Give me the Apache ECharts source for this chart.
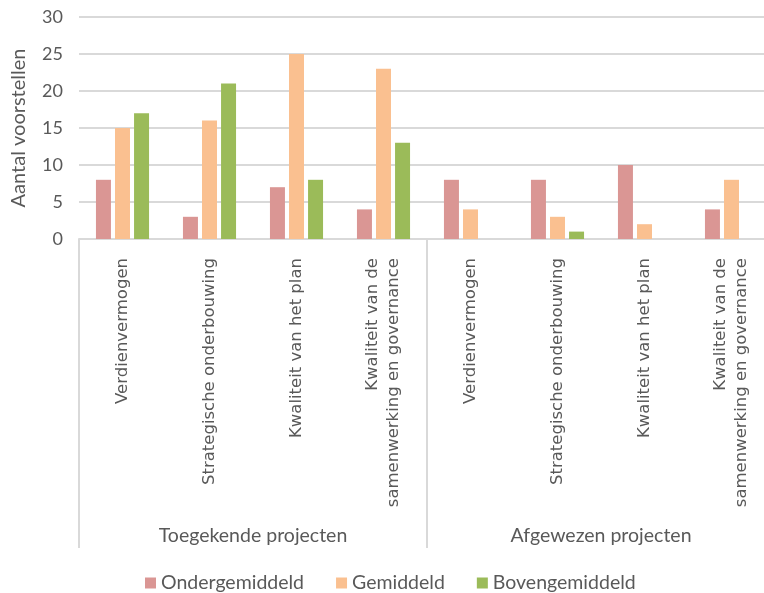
<!DOCTYPE html>
<html>
<head>
<meta charset="utf-8">
<script src="https://cdn.jsdelivr.net/npm/echarts@6/dist/echarts.min.js"></script>
<style>
  html, body { margin: 0; padding: 0; background: #fff; }
  #chart { width: 764px; height: 593px; }
</style>
</head>
<body>
<div id="chart"></div>
<script>
  const criteria = [
    'Verdienvermogen',
    'Strategische onderbouwing',
    'Kwaliteit van het plan',
    'Kwaliteit van de\nsamenwerking en governance',
    'Verdienvermogen',
    'Strategische onderbouwing',
    'Kwaliteit van het plan',
    'Kwaliteit van de\nsamenwerking en governance'
  ];
  const groups = ['Toegekende projecten', 'Afgewezen projecten'];
  const seriesNames = ['Ondergemiddeld', 'Gemiddeld', 'Bovengemiddeld'];
  const onder = [8, 3, 7, 4, 8, 8, 10, 4];
  const gemiddeld = [15, 16, 25, 23, 4, 3, 2, 8];
  const boven = [17, 21, 8, 13, 0, 1, 0, 0];
  const colors = ['#da9694', '#fac090', '#9bbb59'];

  const chart = echarts.init(document.getElementById('chart'));
  const textColor = '#595959';
  const gridColor = '#d9d9d9';

  const option = {
    color: colors,
    // plot runs past the right edge, like the cropped original
    grid: { left: 79, top: 17, width: 696, bottom: 354, outerBoundsMode: 'none' },
    legend: {
      top: 568,
      left: 140,
      icon: 'rect',
      itemWidth: 11,
      itemHeight: 11,
      itemGap: 32,
      textStyle: { color: textColor, fontFamily: 'Lato', fontSize: 19.5 },
      data: seriesNames
    },
    xAxis: [
      {
        type: 'category',
        data: criteria,
        axisLine: { show: true, lineStyle: { color: gridColor, width: 2 } },
        axisTick: { show: false },
        axisLabel: {
          interval: 0,
          rotate: 90,
          margin: 19,
          color: textColor,
          fontFamily: 'DejaVu Sans',
          fontSize: 16.5,
          lineHeight: 21
        }
      },
      {
        type: 'category',
        data: groups,
        position: 'bottom',
        axisLine: { show: false },
        axisTick: { show: true, interval: 0, length: 309, lineStyle: { color: gridColor, width: 2 } },
        axisLabel: {
          interval: 0,
          margin: 287,
          color: textColor,
          fontFamily: 'Lato',
          fontSize: 19.5
        }
      }
    ],
    yAxis: {
      type: 'value',
      min: 0,
      max: 30,
      interval: 5,
      name: 'Aantal voorstellen',
      nameLocation: 'middle',
      nameGap: 50,
      nameTextStyle: { color: textColor, fontFamily: 'Lato', fontSize: 20 },
      axisLine: { show: false },
      axisTick: { show: false },
      axisLabel: { color: textColor, fontFamily: 'Lato', fontSize: 18, margin: 16 },
      splitLine: { lineStyle: { color: gridColor, width: 2 } }
    },
    series: [
      { name: seriesNames[0], type: 'bar', data: onder, barWidth: 15, barGap: '27%' },
      { name: seriesNames[1], type: 'bar', data: gemiddeld, barWidth: 15, barGap: '27%' },
      { name: seriesNames[2], type: 'bar', data: boven, barWidth: 15, barGap: '27%' }
    ]
  };

  chart.setOption(option);
</script>
</body>
</html>
